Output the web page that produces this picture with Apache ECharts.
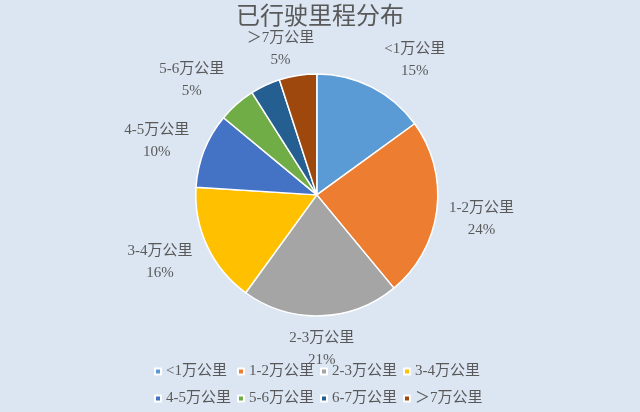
<!DOCTYPE html>
<html>
<head>
<meta charset="utf-8">
<script src="https://cdn.jsdelivr.net/npm/echarts@6/dist/echarts.min.js"></script>
<style>
html,body{margin:0;padding:0;background:#dce6f2;}
#main{width:640px;height:412px;}
</style>
</head>
<body>
<div id="main"></div>
<script>
const titleText = '已行驶里程分布';
const categories = ['<1万公里', '1-2万公里', '2-3万公里', '3-4万公里', '4-5万公里', '5-6万公里', '6-7万公里', '＞7万公里'];
const values = [15, 24, 21, 16, 10, 5, 4, 5];
const colors = ['#5B9BD5', '#ED7D31', '#A5A5A5', '#FFC000', '#4472C4', '#70AD47', '#255E91', '#9E480E'];
const hiddenLabels = ['6-7万公里'];
// label placement nudges, style only
const labelAngleShift = [9, 1, 0, 2, -3, -6, 0, -5];
const labelRadialShift = [0, 0, 0, 1, 0, 0, 0, -10];

const R = 121;
const GAP = 10;
const CX = 0.495, CY = 0.473;
const FONT = "'Liberation Serif', 'Noto Sans CJK SC', serif";
const TEXT = '#595959';
const LEGEND_LEFT = 149, LEGEND_COL_W = 83, LEGEND_TOP = 359, LEGEND_ROW_H = 27;

const chart = echarts.init(document.getElementById('main'));
const total = values.reduce((a, b) => a + b, 0);

const legends = categories.map((name, i) => ({
  orient: 'horizontal',
  left: LEGEND_LEFT + (i % 4) * LEGEND_COL_W,
  top: LEGEND_TOP + Math.floor(i / 4) * LEGEND_ROW_H,
  itemWidth: 6,
  itemHeight: 6,
  icon: 'rect',
  data: [name],
  textStyle: { color: TEXT, fontSize: 15, fontFamily: FONT }
}));

chart.setOption({
  backgroundColor: '#dce6f2',
  color: colors,
  title: {
    text: titleText,
    left: 'center',
    top: 1,
    textStyle: { color: TEXT, fontSize: 24, fontWeight: 'normal', fontFamily: FONT }
  },
  legend: legends,
  series: [{
    type: 'pie',
    center: [(CX * 100) + '%', (CY * 100) + '%'],
    radius: R,
    startAngle: 90,
    clockwise: true,
    avoidLabelOverlap: false,
    itemStyle: { borderColor: '#ffffff', borderWidth: 1.5 },
    label: {
      show: true,
      position: 'outside',
      formatter: '{b}\n{d}%',
      color: TEXT,
      fontSize: 15,
      fontFamily: FONT,
      lineHeight: 22
    },
    labelLine: { show: false },
    emphasis: { disabled: true },
    labelLayout: function (p) {
      const i = p.dataIndex;
      let cum = 0;
      for (let k = 0; k < i; k++) cum += values[k];
      const mid = (cum + values[i] / 2) / total * 2 * Math.PI + labelAngleShift[i] * Math.PI / 180;
      const ux = Math.sin(mid), uy = -Math.cos(mid);
      const w = p.labelRect.width, h = p.labelRect.height;
      const cx = chart.getWidth() * CX, cy = chart.getHeight() * CY;
      const d = R + GAP + labelRadialShift[i] + Math.abs(ux) * w / 2 + Math.abs(uy) * h / 2;
      return { x: cx + ux * d, y: cy + uy * d, align: 'center', verticalAlign: 'middle' };
    },
    data: categories.map((name, i) => ({
      name: name,
      value: values[i],
      label: { show: hiddenLabels.indexOf(name) < 0 }
    }))
  }]
});
</script>
</body>
</html>
